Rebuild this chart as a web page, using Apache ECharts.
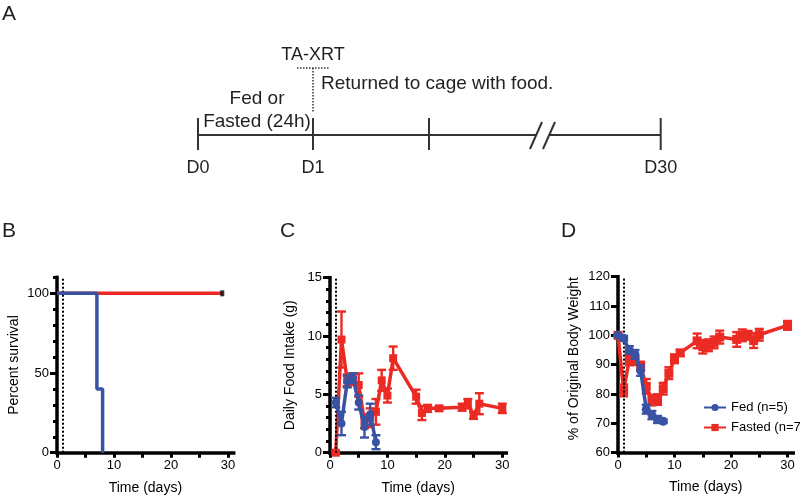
<!DOCTYPE html>
<html><head><meta charset="utf-8">
<script src="https://cdn.jsdelivr.net/npm/echarts@6/dist/echarts.min.js"></script>
<style>html,body{margin:0;padding:0;background:#fff}#c{width:800px;height:497px}</style>
</head><body><div id="c"></div>
<script>
// ---- Panel B: survival ----
const fedSurvX = [0, 7, 8];
const fedSurvY = [100, 40, 0];
const fastSurvX = [0, 29];
const fastSurvY = [100, 100];
const censorX = [29];
const censorY = [100];

// ---- Panel C: daily food intake (g) ----
const fedFoodX = [1, 2, 3, 4, 5, 6, 7, 8];
const fedFood = [4.3, 2.5, 6.1, 6.4, 4.3, 2.2, 3.3, 0.9];
const fedFoodErr = [0.4, 1.0, 0.5, 0.4, 0.6, 0.9, 0.9, 0.6];
const fastFoodX = [1, 2, 3, 4, 5, 6, 7, 8, 9, 10, 11, 15, 16, 17, 19, 23, 24, 25, 26, 30];
const fastFood = [0, 9.7, 6.2, 6.3, 5.8, 2.7, 3.0, 3.5, 6.2, 4.9, 8.1, 4.8, 3.4, 3.8, 3.8, 3.9, 4.2, 3.2, 4.2, 3.8];
const fastFoodErr = [0.1, 2.4, 0.5, 0.5, 1.0, 0.6, 0.8, 1.1, 0.9, 0.6, 1.0, 0.6, 0.6, 0.3, 0.2, 0.3, 0.4, 0.3, 0.9, 0.4];

// ---- Panel D: % of original body weight ----
const fedWtX = [0, 1, 2, 3, 4, 5, 6, 7, 8];
const fedWt = [100, 99, 95, 93.5, 88, 74.8, 72.8, 71.3, 70.7];
const fedWtErr = [0.3, 0.8, 1.3, 1.5, 1.8, 1.5, 1.4, 1.2, 0.6];
const fastWtX = [0, 1, 2, 3, 4, 5, 6, 7, 8, 9, 10, 11, 14, 15, 16, 17, 18, 21, 22, 23, 24, 25, 30];
const fastWt = [100, 81.2, 91.8, 91.4, 89.5, 82.6, 77.9, 78.1, 81.8, 87.1, 92, 94, 98.1, 96.1, 96.6, 97.6, 99.4, 98.6, 100, 100, 98.2, 100.2, 103.4];
const fastWtErr = [0.5, 2, 2, 1.5, 1.5, 2.5, 1.8, 1.8, 2, 2, 1.5, 1, 2.5, 2.3, 2, 2, 2.2, 2.5, 2, 1.5, 2.5, 2, 1.5];

// ---- tick labels ----
const xTicks = [0, 5, 10, 15, 20, 25, 30];
const xLabels = [0, 10, 20, 30];
const survMajor = [0, 50, 100];
const survMinor = [0, 10, 20, 30, 40, 50, 60, 70, 80, 90, 100, 110];
const foodMajor = [0, 5, 10, 15];
const foodMinor = [0,1,2,3,4,5,6,7,8,9,10,11,12,13,14,15];
const wtMajor = [60, 70, 80, 90, 100, 110, 120];

const legendNames = ['Fed (n=5)', 'Fasted (n=7)'];
const timelineLabels = ['D0', 'D1', 'D30'];

const BLUE = '#3953a4', RED = '#ec2a24', INK = '#231f20';
const FONT = '"Liberation Sans", Arial, sans-serif';

function pairs(xs, ys) { return xs.map((x, i) => [x, ys[i]]); }

function xAxisCfg(g, max) {
  return {
    type: 'value', gridIndex: g, min: 0, max: max, position: 'bottom',
    axisLine: { onZero: false, lineStyle: { color: '#000', width: 3.5, cap: 'square' } },
    axisTick: { customValues: xTicks, length: 5, lineStyle: { color: '#000', width: 3 } },
    axisLabel: { customValues: xLabels, fontSize: 13, color: '#000', margin: 6, fontFamily: FONT },
    splitLine: { show: false },
    name: 'Time (days)', nameLocation: 'middle', nameGap: 28,
    nameTextStyle: { fontSize: 14, color: '#000', fontFamily: FONT }
  };
}
function yAxisCfg(g, min, max, major, name, gap, pad) {
  return {
    type: 'value', gridIndex: g, min: min, max: max, position: 'left', offset: 0,
    axisLine: { show: true, onZero: false, lineStyle: { color: '#000', width: 3.5, cap: 'square' } },
    axisTick: { customValues: major, length: 7, lineStyle: { color: '#000', width: 3 } },
    axisLabel: { customValues: major, fontSize: 13, color: '#000', margin: 8, fontFamily: FONT },
    splitLine: { show: false },
    name: name, nameLocation: 'middle', nameGap: gap,
    nameTextStyle: { fontSize: 14, color: '#000', fontFamily: FONT, padding: pad || 0 }
  };
}
function yMinorCfg(g, min, max, minor) {
  return {
    type: 'value', gridIndex: g, min: min, max: max, position: 'left', offset: 0,
    axisLine: { show: false, onZero: false },
    axisTick: { customValues: minor, length: 4, lineStyle: { color: '#000', width: 3 } },
    axisLabel: { show: false }, splitLine: { show: false }
  };
}
function errSeries(xs, ys, es, color, xi, yi, z) {
  return {
    type: 'custom', xAxisIndex: xi, yAxisIndex: yi, silent: true, z: z,
    data: xs.map((x, i) => [x, ys[i] - es[i], ys[i] + es[i]]),
    encode: { x: 0, y: [1, 2] },
    renderItem: function (params, api) {
      const lo = api.coord([api.value(0), api.value(1)]);
      const hi = api.coord([api.value(0), api.value(2)]);
      const w = 4.5, st = { stroke: color, lineWidth: 2.4 };
      return { type: 'group', children: [
        { type: 'line', shape: { x1: lo[0], y1: lo[1], x2: hi[0], y2: hi[1] }, style: st },
        { type: 'line', shape: { x1: lo[0] - w, y1: lo[1], x2: lo[0] + w, y2: lo[1] }, style: st },
        { type: 'line', shape: { x1: hi[0] - w, y1: hi[1], x2: hi[0] + w, y2: hi[1] }, style: st }
      ]};
    }
  };
}
const dotted = {
  symbol: 'none', silent: true, label: { show: false }, animation: false,
  lineStyle: { color: '#000', type: [2, 2], width: 2 }, data: [{ xAxis: 1 }]
};

// ---- Panel A graphic (schematic timeline) ----
const tl = { y: 135, x0: 198, x1: 313, x2: 429, x30: 660.7 };
const aText = (t, x, y, size, align) => ({ type: 'text', silent: true, style: {
  text: t, x: x, y: y, fontSize: size, fontFamily: FONT, fill: INK, align: align || 'center', verticalAlign: 'middle' } });
const aLine = (x1, y1, x2, y2, dash) => ({ type: 'line', silent: true,
  shape: { x1, y1, x2, y2 }, style: { stroke: '#333', lineWidth: dash ? 1.5 : 2, lineDash: dash ? [1.5, 1.5] : null } });

const graphic = [
  aText('A', 2, 14, 21, 'left'),
  aText('B', 2, 231, 21, 'left'),
  aText('C', 280, 231, 21, 'left'),
  aText('D', 561, 231, 21, 'left'),
  aLine(tl.x0, tl.y, 536, tl.y),
  aLine(549, tl.y, tl.x30, tl.y),
  aLine(530, 149, 542, 122),
  aLine(543, 149, 555, 122),
  aLine(tl.x0, 118, tl.x0, 150),
  aLine(tl.x1, 118, tl.x1, 150),
  aLine(tl.x2, 118, tl.x2, 150),
  aLine(tl.x30, 118, tl.x30, 150),
  aText(timelineLabels[0], tl.x0, 168, 18),
  aText(timelineLabels[1], tl.x1, 168, 18),
  aText(timelineLabels[2], tl.x30, 168, 18),
  aText('Fed or', 257, 99, 19),
  aText('Fasted (24h)', 257, 122, 19),
  aText('TA-XRT', 313, 55, 18),
  aLine(297, 68, 330, 68, true),
  aLine(tl.x1, 68, tl.x1, 113, true),
  aText('Returned to cage with food.', 321, 84, 19, 'left')
];

const chart = echarts.init(document.getElementById('c'), null, { renderer: 'canvas' });
chart.setOption({
  animation: false,
  backgroundColor: '#fff',
  textStyle: { fontFamily: FONT },
  graphic: graphic,
  grid: [
    { left: 57, top: 277.4, width: 176.7, height: 175.3 },
    { left: 330, top: 277.7, width: 176.3, height: 175 },
    { left: 618, top: 276.7, width: 175.2, height: 175.9 }
  ],
  xAxis: [xAxisCfg(0, 31), xAxisCfg(1, 30.7), xAxisCfg(2, 31)],
  yAxis: [
    yAxisCfg(0, 0, 110, survMajor, 'Percent survival', 36),
    yMinorCfg(0, 0, 110, survMinor),
    yAxisCfg(1, 0, 15, foodMajor, 'Daily Food Intake (g)', 33),
    yMinorCfg(1, 0, 15, foodMinor),
    yAxisCfg(2, 60, 120, wtMajor, '% of Original Body Weight', 37, [0, 0, 0, 12])
  ],
  legend: {
    data: legendNames, orient: 'vertical', left: 698, top: 396,
    itemWidth: 22, itemHeight: 9, itemGap: 7, selectedMode: false,
    textStyle: { fontSize: 13, color: '#000', fontFamily: FONT }
  },
  series: [
    // B
    { type: 'line', name: 'fastB', xAxisIndex: 0, yAxisIndex: 0, data: pairs(fastSurvX, fastSurvY),
      step: 'end', symbol: 'none', lineStyle: { color: RED, width: 3.5 }, z: 3, markLine: dotted },
    { type: 'scatter', name: 'censorB', xAxisIndex: 0, yAxisIndex: 0, data: pairs(censorX, censorY),
      symbol: 'rect', symbolSize: [4, 6], itemStyle: { color: '#000' }, z: 4 },
    { type: 'line', name: 'fedB', xAxisIndex: 0, yAxisIndex: 0, data: pairs(fedSurvX, fedSurvY),
      step: 'end', symbol: 'none', lineStyle: { color: BLUE, width: 3.5 }, z: 5 },
    // C
    errSeries(fastFoodX, fastFood, fastFoodErr, RED, 1, 2, 2),
    { type: 'line', name: 'fastC', xAxisIndex: 1, yAxisIndex: 2, data: pairs(fastFoodX, fastFood),
      symbol: 'rect', symbolSize: 8, itemStyle: { color: RED }, lineStyle: { color: RED, width: 3.5 }, z: 3,
      markLine: dotted },
    errSeries(fedFoodX, fedFood, fedFoodErr, BLUE, 1, 2, 4),
    { type: 'line', name: 'fedC', xAxisIndex: 1, yAxisIndex: 2, data: pairs(fedFoodX, fedFood),
      symbol: 'circle', symbolSize: 8, itemStyle: { color: BLUE }, lineStyle: { color: BLUE, width: 3.5 }, z: 5 },
    // D
    errSeries(fastWtX, fastWt, fastWtErr, RED, 2, 4, 2),
    { type: 'line', name: legendNames[1], xAxisIndex: 2, yAxisIndex: 4, data: pairs(fastWtX, fastWt),
      symbol: 'rect', symbolSize: 9, itemStyle: { color: RED }, lineStyle: { color: RED, width: 3.5 }, z: 3,
      markLine: dotted },
    errSeries(fedWtX, fedWt, fedWtErr, BLUE, 2, 4, 4),
    { type: 'line', name: legendNames[0], xAxisIndex: 2, yAxisIndex: 4, data: pairs(fedWtX, fedWt),
      symbol: 'circle', symbolSize: 9, itemStyle: { color: BLUE }, lineStyle: { color: BLUE, width: 3.5 }, z: 5 }
  ]
});
</script>
</body></html>
